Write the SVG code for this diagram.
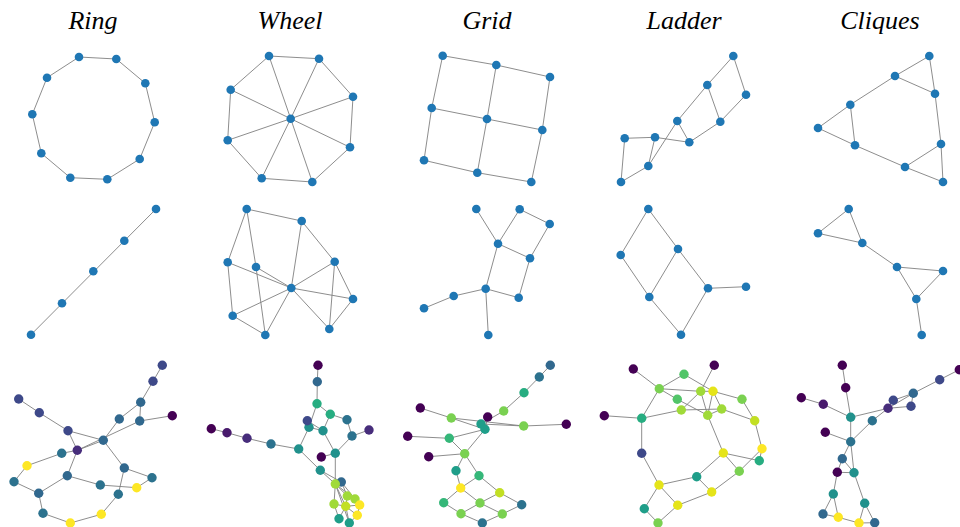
<svg xmlns="http://www.w3.org/2000/svg" width="960" height="527" viewBox="0 0 960 527">
<style>
.t{font-family:"Liberation Serif","Times New Roman",serif;font-style:italic;font-size:26px;fill:#000;text-anchor:middle}
.e{stroke:#808080;stroke-width:0.9;fill:none}
.b{fill:#1f77b4}
.c0{fill:#440154}.c1{fill:#481a6c}.c2{fill:#472d7b}.c3{fill:#3e4989}.c4{fill:#31688e}.c5{fill:#2c728e}.c6{fill:#21918c}.c7{fill:#1f9e89}.c8{fill:#27ad81}.c9{fill:#35b779}.c10{fill:#52c569}.c11{fill:#7ad151}.c12{fill:#a0da39}.c13{fill:#c2df23}.c14{fill:#e5e419}.c15{fill:#fde725}
</style>
<rect width="960" height="527" fill="#fff"/>
<g id="titles">
<text class="t" x="93" y="29">Ring</text>
<text class="t" x="290" y="29">Wheel</text>
<text class="t" x="487" y="29">Grid</text>
<text class="t" x="684" y="29">Ladder</text>
<text class="t" x="880" y="29">Cliques</text>
</g>
<g id="connectors" class="e">
<path d="M79 57L116.3 59L145.3 83.3L154.7 122.3L139.7 159L107.3 179.3L70.3 177.7L41.3 153.3L32.3 114.3L47 77.7Z"/>
<path d="M156 209L31 334.7"/>
<path d="M269 56L319 58.7L353 96.7L350 147.3L312.3 182L261.7 178.3L227.7 140.3L230.7 89.7Z M290.7 118.7L269 56M290.7 118.7L319 58.7M290.7 118.7L353 96.7M290.7 118.7L350 147.3M290.7 118.7L312.3 182M290.7 118.7L261.7 178.3M290.7 118.7L227.7 140.3M290.7 118.7L230.7 89.7"/>
<path d="M246.7 209L301.7 221M246.7 209L227.7 262.3M246.7 209L256 267M301.7 221L334.7 261.7M301.7 221L291.3 288M227.7 262.3L291.3 288M227.7 262.3L232.7 315.7M256 267L291.3 288M256 267L265.3 335M291.3 288L334.7 261.7M291.3 288L353 299M291.3 288L232.7 315.7M291.3 288L265.3 335M291.3 288L329.3 329M334.7 261.7L353 299M334.7 261.7L329.3 329M353 299L329.3 329M232.7 315.7L265.3 335"/>
<path d="M442.7 55.7L496.3 65L550 77M431.7 108L487 119L542.3 130M424 160.3L477.3 172.7L531.3 182M442.7 55.7L431.7 108L424 160.3M496.3 65L487 119L477.3 172.7M550 77L542.3 130L531.3 182"/>
<path d="M476.3 209L498 243.7M519.7 209.3L498 243.7M519.7 209.3L549.7 224M549.7 224L530 258.3M498 243.7L530 258.3M498 243.7L485.7 288.7M530 258.3L518.7 297.7M485.7 288.7L518.7 297.7M485.7 288.7L453.7 296M453.7 296L424 308.3M485.7 288.7L488.3 335"/>
<path d="M733.3 56L746 94.7M733.3 56L707.3 85M707.3 85L720.3 121.7M746 94.7L720.3 121.7M707.3 85L677.3 121M720.3 121.7L689.3 142.3M677.3 121L689.3 142.3M677.3 121L648.3 166M655 137.3L689.3 142.3M655 137.3L624.7 138.3M655 137.3L648.3 166M624.7 138.3L621 182M648.3 166L621 182"/>
<path d="M648.3 209L620.7 255M648.3 209L678 249M620.7 255L649.3 297M678 249L649.3 297M678 249L708 288.3M649.3 297L681 334.7M708 288.3L681 334.7M708 288.3L746 286.7"/>
<path d="M929.3 56L895 76M929.3 56L935 93.7M895 76L935 93.7M895 76L850.3 104.7M850.3 104.7L818 128M850.3 104.7L855 145.3M818 128L855 145.3M855 145.3L905 167M905 167L941 144M905 167L943 182M941 144L943 182M935 93.7L941 144"/>
<path d="M848.7 209L818 233.3M848.7 209L862.3 243M818 233.3L862.3 243M862.3 243L897 267M897 267L943 271M897 267L916.3 299M943 271L916.3 299M916.3 299L921.7 335"/>
<path d="M162.3 365.3L153 381.3M153 381.3L140.7 402.3M140.7 402.3L139.7 421M140.7 402.3L119.3 419M139.7 421L172.3 415.7M119.3 419L103.3 440.3M139.7 421L77.3 450.3M103.3 440.3L77.3 450.3M18.7 399L39.3 412.7M39.3 412.7L68 430.7M68 430.7L103.3 440.3M68 430.7L77.3 450.3M61.7 453.3L77.3 450.3M61.7 453.3L27 465.7M27 465.7L14 481.7M14 481.7L38.7 493.3M38.7 493.3L67.3 475.7M67.3 475.7L77.3 450.3M67.3 475.7L100.3 485M100.3 485L136.7 487.7M136.7 487.7L152 477.7M152 477.7L124.3 468M124.3 468L103.3 440.3M124.3 468L118.3 494.3M118.3 494.3L101.3 514.3M101.3 514.3L70.3 523M70.3 523L43 513.3M43 513.3L38.7 493.3"/>
<path d="M318 365.3L317.3 381.7M317.3 381.7L317 403.7M317 403.7L330.3 414.3M317 403.7L309 427.3M330.3 414.3L347 419.7M330.3 414.3L323 430.7M347 419.7L352 436M352 436L369 430M352 436L335.3 453.3M323 430.7L335.3 453.3M307.3 420.7L323 430.7M309 427.3L323 430.7M309 427.3L298.7 449M271 444L298.7 449M247 438.3L271 444M227 432.7L247 438.3M211.3 428.7L227 432.7M298.7 449L320.3 470.3M321.3 457L335.3 453.3M335.3 453.3L335.3 484M320.3 470.3L335.3 484M320.3 470.3L341.3 482M335.3 484L341.3 482M335.3 484L334 504M335.3 484L347.3 496M335.3 484L345.7 506.3M335.3 484L355 499M335.3 484L349.3 523M341.3 482L347.3 496M341.3 482L355 499M347.3 496L345.7 506.3M347.3 496L355 499M355 499L359.7 505M359.7 505L345.7 506.3M334 504L345.7 506.3M334 504L339 518.7M345.7 506.3L357.3 515.3M345.7 506.3L339 518.7M345.7 506.3L349.3 523M359.7 505L357.3 515.3M357.3 515.3L349.3 523"/>
<path d="M550.3 365.3L539.3 377M539.3 377L524 392.7M524 392.7L503.7 411M503.7 411L481 424M420.3 408L451.3 418M451.3 418L485 429.3M451.3 418L523.7 426M481 424L523.7 426M487.7 417L485 429.3M523.7 426L566.3 424.3M407.7 436.3L449.3 438.3M449.3 438.3L485 429.3M449.3 438.3L464.7 453.7M485 429.3L464.7 453.7M428.7 456.7L464.7 453.7M464.7 453.7L456 470.7M464.7 453.7L479 475.7M456 470.7L460.7 488M479 475.7L460.7 488M479 475.7L499.7 492.7M460.7 488L443.7 502.7M460.7 488L480 503M499.7 492.7L480 503M499.7 492.7L521.7 504.7M443.7 502.7L461 513.7M480 503L461 513.7M480 503L502.3 514M521.7 504.7L502.3 514M461 513.7L482.3 523M502.3 514L482.3 523"/>
<path d="M633.3 369L659.3 388.7M659.3 388.7L684 374.3M684 374.3L713 391.3M659.3 388.7L700.7 391.3M659.3 388.7L677.3 399.3M677.3 399.3L707.7 415.3M659.3 388.7L641.7 418.3M604.3 415.7L641.7 418.3M641.7 418.3L681.3 410M681.3 410L721.7 409M681.3 410L700.7 391.3M714.3 365.3L700.7 391.3M700.7 391.3L707.7 415.3M713 391.3L707.7 415.3M700.7 391.3L713 391.3M713 391.3L721.7 409M713 391.3L742 399.3M742 399.3L754.7 420.7M754.7 420.7L762 448.7M762 448.7L759.3 460.7M723.3 453L759.3 460.7M723.3 453L707.7 415.3M723.3 453L739.3 471.3M739.3 471.3L762 448.7M721.7 409L754.7 420.7M707.7 415.3L721.7 409M641.7 418.3L641.7 453.3M641.7 453.3L659 485M659 485L696.7 476.7M696.7 476.7L723.3 453M696.7 476.7L711.7 492M711.7 492L739.3 471.3M711.7 492L677.7 505.3M677.7 505.3L659 485M659 485L644.3 508.7M644.3 508.7L658 523M658 523L677.7 505.3"/>
<path d="M842.3 365.3L845.7 387.7M845.7 387.7L850.7 417.3M801.3 397.7L823.3 404.3M823.3 404.3L850.7 417.3M850.7 417.3L888 408.3M850.7 417.3L850.7 441.7M959.3 369.7L939.7 379.7M939.7 379.7L913.3 393.3M913.3 393.3L893.3 400.3M913.3 393.3L888 408.3M893.3 400.3L888 408.3M888 408.3L911 406.3M911 406.3L913.3 393.3M888 408.3L872.3 420.7M872.3 420.7L850.7 441.7M825.3 432.3L850.7 441.7M850.7 441.7L842.3 458.7M850.7 441.7L854 472.7M842.3 458.7L854 472.7M842.3 458.7L837.3 472.3M837.3 472.3L854 472.7M837.3 472.3L833.3 494M854 472.7L864.7 503.3M833.3 494L823 514M833.3 494L838.3 517.3M823 514L838.3 517.3M838.3 517.3L859 523M859 523L864.7 503.3M864.7 503.3L874.7 522.7M859 523L874.7 522.7"/>
</g>
<g id="ring-nodes">
<g id="ring0"><circle class="b" cx="79" cy="57" r="4.3"/></g>
<g id="ring1"><circle class="b" cx="116.3" cy="59" r="4.3"/></g>
<g id="ring2"><circle class="b" cx="145.3" cy="83.3" r="4.3"/></g>
<g id="ring3"><circle class="b" cx="154.7" cy="122.3" r="4.3"/></g>
<g id="ring4"><circle class="b" cx="139.7" cy="159" r="4.3"/></g>
<g id="ring5"><circle class="b" cx="107.3" cy="179.3" r="4.3"/></g>
<g id="ring6"><circle class="b" cx="70.3" cy="177.7" r="4.3"/></g>
<g id="ring7"><circle class="b" cx="41.3" cy="153.3" r="4.3"/></g>
<g id="ring8"><circle class="b" cx="32.3" cy="114.3" r="4.3"/></g>
<g id="ring9"><circle class="b" cx="47" cy="77.7" r="4.3"/></g>
<g id="path0"><circle class="b" cx="156" cy="209" r="4.3"/></g>
<g id="path1"><circle class="b" cx="124.3" cy="240.7" r="4.3"/></g>
<g id="path2"><circle class="b" cx="93.3" cy="271.3" r="4.3"/></g>
<g id="path3"><circle class="b" cx="62" cy="303.3" r="4.3"/></g>
<g id="path4"><circle class="b" cx="31" cy="334.7" r="4.3"/></g>
</g>
<g id="wheel-nodes">
<g id="wheel0"><circle class="b" cx="290.7" cy="118.7" r="4.3"/></g>
<g id="wheel1"><circle class="b" cx="269" cy="56" r="4.3"/></g>
<g id="wheel2"><circle class="b" cx="319" cy="58.7" r="4.3"/></g>
<g id="wheel3"><circle class="b" cx="353" cy="96.7" r="4.3"/></g>
<g id="wheel4"><circle class="b" cx="350" cy="147.3" r="4.3"/></g>
<g id="wheel5"><circle class="b" cx="312.3" cy="182" r="4.3"/></g>
<g id="wheel6"><circle class="b" cx="261.7" cy="178.3" r="4.3"/></g>
<g id="wheel7"><circle class="b" cx="227.7" cy="140.3" r="4.3"/></g>
<g id="wheel8"><circle class="b" cx="230.7" cy="89.7" r="4.3"/></g>
<g id="w2a"><circle class="b" cx="246.7" cy="209" r="4.3"/></g>
<g id="w2b"><circle class="b" cx="301.7" cy="221" r="4.3"/></g>
<g id="w2c"><circle class="b" cx="227.7" cy="262.3" r="4.3"/></g>
<g id="w2d"><circle class="b" cx="256" cy="267" r="4.3"/></g>
<g id="w2e"><circle class="b" cx="291.3" cy="288" r="4.3"/></g>
<g id="w2f"><circle class="b" cx="334.7" cy="261.7" r="4.3"/></g>
<g id="w2g"><circle class="b" cx="353" cy="299" r="4.3"/></g>
<g id="w2h"><circle class="b" cx="232.7" cy="315.7" r="4.3"/></g>
<g id="w2i"><circle class="b" cx="265.3" cy="335" r="4.3"/></g>
<g id="w2j"><circle class="b" cx="329.3" cy="329" r="4.3"/></g>
</g>
<g id="grid-nodes">
<g id="grid0"><circle class="b" cx="442.7" cy="55.7" r="4.3"/></g>
<g id="grid1"><circle class="b" cx="496.3" cy="65" r="4.3"/></g>
<g id="grid2"><circle class="b" cx="550" cy="77" r="4.3"/></g>
<g id="grid3"><circle class="b" cx="431.7" cy="108" r="4.3"/></g>
<g id="grid4"><circle class="b" cx="487" cy="119" r="4.3"/></g>
<g id="grid5"><circle class="b" cx="542.3" cy="130" r="4.3"/></g>
<g id="grid6"><circle class="b" cx="424" cy="160.3" r="4.3"/></g>
<g id="grid7"><circle class="b" cx="477.3" cy="172.7" r="4.3"/></g>
<g id="grid8"><circle class="b" cx="531.3" cy="182" r="4.3"/></g>
<g id="g2a"><circle class="b" cx="476.3" cy="209" r="4.3"/></g>
<g id="g2b"><circle class="b" cx="519.7" cy="209.3" r="4.3"/></g>
<g id="g2c"><circle class="b" cx="549.7" cy="224" r="4.3"/></g>
<g id="g2d"><circle class="b" cx="498" cy="243.7" r="4.3"/></g>
<g id="g2e"><circle class="b" cx="530" cy="258.3" r="4.3"/></g>
<g id="g2f"><circle class="b" cx="485.7" cy="288.7" r="4.3"/></g>
<g id="g2g"><circle class="b" cx="518.7" cy="297.7" r="4.3"/></g>
<g id="g2h"><circle class="b" cx="453.7" cy="296" r="4.3"/></g>
<g id="g2i"><circle class="b" cx="424" cy="308.3" r="4.3"/></g>
<g id="g2j"><circle class="b" cx="488.3" cy="335" r="4.3"/></g>
</g>
<g id="ladder-nodes">
<g id="lad0"><circle class="b" cx="733.3" cy="56" r="4.3"/></g>
<g id="lad1"><circle class="b" cx="746" cy="94.7" r="4.3"/></g>
<g id="lad2"><circle class="b" cx="707.3" cy="85" r="4.3"/></g>
<g id="lad3"><circle class="b" cx="720.3" cy="121.7" r="4.3"/></g>
<g id="lad4"><circle class="b" cx="677.3" cy="121" r="4.3"/></g>
<g id="lad5"><circle class="b" cx="689.3" cy="142.3" r="4.3"/></g>
<g id="lad6"><circle class="b" cx="655" cy="137.3" r="4.3"/></g>
<g id="lad7"><circle class="b" cx="624.7" cy="138.3" r="4.3"/></g>
<g id="lad8"><circle class="b" cx="648.3" cy="166" r="4.3"/></g>
<g id="lad9"><circle class="b" cx="621" cy="182" r="4.3"/></g>
<g id="l2a"><circle class="b" cx="648.3" cy="209" r="4.3"/></g>
<g id="l2b"><circle class="b" cx="620.7" cy="255" r="4.3"/></g>
<g id="l2c"><circle class="b" cx="678" cy="249" r="4.3"/></g>
<g id="l2d"><circle class="b" cx="649.3" cy="297" r="4.3"/></g>
<g id="l2e"><circle class="b" cx="708" cy="288.3" r="4.3"/></g>
<g id="l2f"><circle class="b" cx="746" cy="286.7" r="4.3"/></g>
<g id="l2g"><circle class="b" cx="681" cy="334.7" r="4.3"/></g>
</g>
<g id="clique-nodes">
<g id="cq0"><circle class="b" cx="929.3" cy="56" r="4.3"/></g>
<g id="cq1"><circle class="b" cx="895" cy="76" r="4.3"/></g>
<g id="cq2"><circle class="b" cx="935" cy="93.7" r="4.3"/></g>
<g id="cq3"><circle class="b" cx="850.3" cy="104.7" r="4.3"/></g>
<g id="cq4"><circle class="b" cx="818" cy="128" r="4.3"/></g>
<g id="cq5"><circle class="b" cx="855" cy="145.3" r="4.3"/></g>
<g id="cq6"><circle class="b" cx="941" cy="144" r="4.3"/></g>
<g id="cq7"><circle class="b" cx="905" cy="167" r="4.3"/></g>
<g id="cq8"><circle class="b" cx="943" cy="182" r="4.3"/></g>
<g id="c2a"><circle class="b" cx="848.7" cy="209" r="4.3"/></g>
<g id="c2b"><circle class="b" cx="818" cy="233.3" r="4.3"/></g>
<g id="c2c"><circle class="b" cx="862.3" cy="243" r="4.3"/></g>
<g id="c2d"><circle class="b" cx="897" cy="267" r="4.3"/></g>
<g id="c2e"><circle class="b" cx="943" cy="271" r="4.3"/></g>
<g id="c2f"><circle class="b" cx="916.3" cy="299" r="4.3"/></g>
<g id="c2g"><circle class="b" cx="921.7" cy="335" r="4.3"/></g>
</g>
<g id="ring-gen">
<g id="rn1"><circle class="c3" cx="162.3" cy="365.3" r="4.7"/></g>
<g id="rn2"><circle class="c3" cx="153" cy="381.3" r="4.7"/></g>
<g id="rn3"><circle class="c4" cx="140.7" cy="402.3" r="4.7"/></g>
<g id="rn4"><circle class="c0" cx="172.3" cy="415.7" r="4.7"/></g>
<g id="rn5"><circle class="c4" cx="139.7" cy="421" r="4.7"/></g>
<g id="rn6"><circle class="c4" cx="119.3" cy="419" r="4.7"/></g>
<g id="rn7"><circle class="c4" cx="103.3" cy="440.3" r="4.7"/></g>
<g id="rn8"><circle class="c3" cx="18.7" cy="399" r="4.7"/></g>
<g id="rn9"><circle class="c3" cx="39.3" cy="412.7" r="4.7"/></g>
<g id="rn10"><circle class="c3" cx="68" cy="430.7" r="4.7"/></g>
<g id="rn11"><circle class="c2" cx="77.3" cy="450.3" r="4.7"/></g>
<g id="rn12"><circle class="c5" cx="61.7" cy="453.3" r="4.7"/></g>
<g id="rn13"><circle class="c15" cx="27" cy="465.7" r="4.7"/></g>
<g id="rn14"><circle class="c5" cx="14" cy="481.7" r="4.7"/></g>
<g id="rn15"><circle class="c4" cx="38.7" cy="493.3" r="4.7"/></g>
<g id="rn16"><circle class="c4" cx="67.3" cy="475.7" r="4.7"/></g>
<g id="rn17"><circle class="c4" cx="124.3" cy="468" r="4.7"/></g>
<g id="rn18"><circle class="c5" cx="152" cy="477.7" r="4.7"/></g>
<g id="rn19"><circle class="c5" cx="100.3" cy="485" r="4.7"/></g>
<g id="rn20"><circle class="c15" cx="136.7" cy="487.7" r="4.7"/></g>
<g id="rn21"><circle class="c5" cx="118.3" cy="494.3" r="4.7"/></g>
<g id="rn22"><circle class="c5" cx="43" cy="513.3" r="4.7"/></g>
<g id="rn23"><circle class="c15" cx="70.3" cy="523" r="4.7"/></g>
<g id="rn24"><circle class="c15" cx="101.3" cy="514.3" r="4.7"/></g>
</g>
<g id="wheel-gen">
<g id="wn1"><circle class="c0" cx="318" cy="365.3" r="4.7"/></g>
<g id="wn2"><circle class="c4" cx="317.3" cy="381.7" r="4.7"/></g>
<g id="wn3"><circle class="c8" cx="317" cy="403.7" r="4.7"/></g>
<g id="wn4"><circle class="c8" cx="330.3" cy="414.3" r="4.7"/></g>
<g id="wn5"><circle class="c5" cx="347" cy="419.7" r="4.7"/></g>
<g id="wn6"><circle class="c2" cx="369" cy="430" r="4.7"/></g>
<g id="wn7"><circle class="c5" cx="352" cy="436" r="4.7"/></g>
<g id="wn9"><circle class="c6" cx="309" cy="427.3" r="4.7"/></g>
<g id="wn8"><circle class="c3" cx="307.3" cy="420.7" r="4.7"/></g>
<g id="wn10"><circle class="c6" cx="323" cy="430.7" r="4.7"/></g>
<g id="wn11"><circle class="c0" cx="211.3" cy="428.7" r="4.7"/></g>
<g id="wn12"><circle class="c1" cx="227" cy="432.7" r="4.7"/></g>
<g id="wn13"><circle class="c2" cx="247" cy="438.3" r="4.7"/></g>
<g id="wn14"><circle class="c5" cx="271" cy="444" r="4.7"/></g>
<g id="wn15"><circle class="c6" cx="298.7" cy="449" r="4.7"/></g>
<g id="wn16"><circle class="c0" cx="321.3" cy="457" r="4.7"/></g>
<g id="wn17"><circle class="c6" cx="335.3" cy="453.3" r="4.7"/></g>
<g id="wn18"><circle class="c6" cx="320.3" cy="470.3" r="4.7"/></g>
<g id="wn19"><circle class="c4" cx="341.3" cy="482" r="4.7"/></g>
<g id="wn20"><circle class="c12" cx="335.3" cy="484" r="4.7"/></g>
<g id="wn21"><circle class="c12" cx="347.3" cy="496" r="4.7"/></g>
<g id="wn22"><circle class="c12" cx="355" cy="499" r="4.7"/></g>
<g id="wn23"><circle class="c15" cx="359.7" cy="505" r="4.7"/></g>
<g id="wn24"><circle class="c12" cx="334" cy="504" r="4.7"/></g>
<g id="wn25"><circle class="c13" cx="345.7" cy="506.3" r="4.7"/></g>
<g id="wn26"><circle class="c15" cx="357.3" cy="515.3" r="4.7"/></g>
<g id="wn27"><circle class="c7" cx="339" cy="518.7" r="4.7"/></g>
<g id="wn28"><circle class="c7" cx="349.3" cy="523" r="4.7"/></g>
</g>
<g id="grid-gen">
<g id="gn1"><circle class="c4" cx="550.3" cy="365.3" r="4.7"/></g>
<g id="gn2"><circle class="c5" cx="539.3" cy="377" r="4.7"/></g>
<g id="gn3"><circle class="c8" cx="524" cy="392.7" r="4.7"/></g>
<g id="gn4"><circle class="c11" cx="503.7" cy="411" r="4.7"/></g>
<g id="gn5"><circle class="c0" cx="420.3" cy="408" r="4.7"/></g>
<g id="gn6"><circle class="c11" cx="451.3" cy="418" r="4.7"/></g>
<g id="gn7"><circle class="c0" cx="487.7" cy="417" r="4.7"/></g>
<g id="gn8"><circle class="c7" cx="481" cy="424" r="4.7"/></g>
<g id="gn9"><circle class="c7" cx="485" cy="429.3" r="4.7"/></g>
<g id="gn10"><circle class="c11" cx="523.7" cy="426" r="4.7"/></g>
<g id="gn11"><circle class="c0" cx="566.3" cy="424.3" r="4.7"/></g>
<g id="gn12"><circle class="c0" cx="407.7" cy="436.3" r="4.7"/></g>
<g id="gn13"><circle class="c9" cx="449.3" cy="438.3" r="4.7"/></g>
<g id="gn14"><circle class="c0" cx="428.7" cy="456.7" r="4.7"/></g>
<g id="gn15"><circle class="c11" cx="464.7" cy="453.7" r="4.7"/></g>
<g id="gn16"><circle class="c7" cx="456" cy="470.7" r="4.7"/></g>
<g id="gn17"><circle class="c9" cx="479" cy="475.7" r="4.7"/></g>
<g id="gn18"><circle class="c15" cx="460.7" cy="488" r="4.7"/></g>
<g id="gn19"><circle class="c13" cx="499.7" cy="492.7" r="4.7"/></g>
<g id="gn20"><circle class="c9" cx="443.7" cy="502.7" r="4.7"/></g>
<g id="gn21"><circle class="c11" cx="480" cy="503" r="4.7"/></g>
<g id="gn22"><circle class="c5" cx="521.7" cy="504.7" r="4.7"/></g>
<g id="gn23"><circle class="c11" cx="461" cy="513.7" r="4.7"/></g>
<g id="gn24"><circle class="c11" cx="502.3" cy="514" r="4.7"/></g>
<g id="gn25"><circle class="c5" cx="482.3" cy="523" r="4.7"/></g>
</g>
<g id="ladder-gen">
<g id="ln1"><circle class="c0" cx="633.3" cy="369" r="4.7"/></g>
<g id="ln2"><circle class="c0" cx="714.3" cy="365.3" r="4.7"/></g>
<g id="ln3"><circle class="c10" cx="684" cy="374.3" r="4.7"/></g>
<g id="ln4"><circle class="c11" cx="659.3" cy="388.7" r="4.7"/></g>
<g id="ln5"><circle class="c12" cx="700.7" cy="391.3" r="4.7"/></g>
<g id="ln6"><circle class="c14" cx="713" cy="391.3" r="4.7"/></g>
<g id="ln7"><circle class="c10" cx="677.3" cy="399.3" r="4.7"/></g>
<g id="ln8"><circle class="c11" cx="742" cy="399.3" r="4.7"/></g>
<g id="ln9"><circle class="c0" cx="604.3" cy="415.7" r="4.7"/></g>
<g id="ln10"><circle class="c8" cx="641.7" cy="418.3" r="4.7"/></g>
<g id="ln11"><circle class="c12" cx="681.3" cy="410" r="4.7"/></g>
<g id="ln12"><circle class="c12" cx="707.7" cy="415.3" r="4.7"/></g>
<g id="ln13"><circle class="c12" cx="721.7" cy="409" r="4.7"/></g>
<g id="ln14"><circle class="c13" cx="754.7" cy="420.7" r="4.7"/></g>
<g id="ln15"><circle class="c3" cx="641.7" cy="453.3" r="4.7"/></g>
<g id="ln16"><circle class="c14" cx="723.3" cy="453" r="4.7"/></g>
<g id="ln17"><circle class="c15" cx="762" cy="448.7" r="4.7"/></g>
<g id="ln18"><circle class="c8" cx="759.3" cy="460.7" r="4.7"/></g>
<g id="ln19"><circle class="c11" cx="739.3" cy="471.3" r="4.7"/></g>
<g id="ln20"><circle class="c7" cx="696.7" cy="476.7" r="4.7"/></g>
<g id="ln21"><circle class="c14" cx="659" cy="485" r="4.7"/></g>
<g id="ln22"><circle class="c14" cx="711.7" cy="492" r="4.7"/></g>
<g id="ln23"><circle class="c14" cx="677.7" cy="505.3" r="4.7"/></g>
<g id="ln24"><circle class="c7" cx="644.3" cy="508.7" r="4.7"/></g>
<g id="ln25"><circle class="c11" cx="658" cy="523" r="4.7"/></g>
</g>
<g id="clique-gen">
<g id="cn1"><circle class="c0" cx="842.3" cy="365.3" r="4.7"/></g>
<g id="cn2"><circle class="c0" cx="845.7" cy="387.7" r="4.7"/></g>
<g id="cn3"><circle class="c0" cx="801.3" cy="397.7" r="4.7"/></g>
<g id="cn4"><circle class="c1" cx="823.3" cy="404.3" r="4.7"/></g>
<g id="cn5"><circle class="c6" cx="850.7" cy="417.3" r="4.7"/></g>
<g id="cn6"><circle class="c0" cx="959.3" cy="369.7" r="4.7"/></g>
<g id="cn7"><circle class="c3" cx="939.7" cy="379.7" r="4.7"/></g>
<g id="cn8"><circle class="c4" cx="913.3" cy="393.3" r="4.7"/></g>
<g id="cn9"><circle class="c3" cx="893.3" cy="400.3" r="4.7"/></g>
<g id="cn10"><circle class="c3" cx="911" cy="406.3" r="4.7"/></g>
<g id="cn11"><circle class="c2" cx="888" cy="408.3" r="4.7"/></g>
<g id="cn12"><circle class="c5" cx="872.3" cy="420.7" r="4.7"/></g>
<g id="cn13"><circle class="c0" cx="825.3" cy="432.3" r="4.7"/></g>
<g id="cn14"><circle class="c5" cx="850.7" cy="441.7" r="4.7"/></g>
<g id="cn15"><circle class="c4" cx="842.3" cy="458.7" r="4.7"/></g>
<g id="cn16"><circle class="c0" cx="837.3" cy="472.3" r="4.7"/></g>
<g id="cn17"><circle class="c6" cx="854" cy="472.7" r="4.7"/></g>
<g id="cn18"><circle class="c6" cx="833.3" cy="494" r="4.7"/></g>
<g id="cn19"><circle class="c6" cx="864.7" cy="503.3" r="4.7"/></g>
<g id="cn20"><circle class="c4" cx="823" cy="514" r="4.7"/></g>
<g id="cn21"><circle class="c15" cx="838.3" cy="517.3" r="4.7"/></g>
<g id="cn22"><circle class="c15" cx="859" cy="523" r="4.7"/></g>
<g id="cn23"><circle class="c4" cx="874.7" cy="522.7" r="4.7"/></g>
</g>
</svg>
